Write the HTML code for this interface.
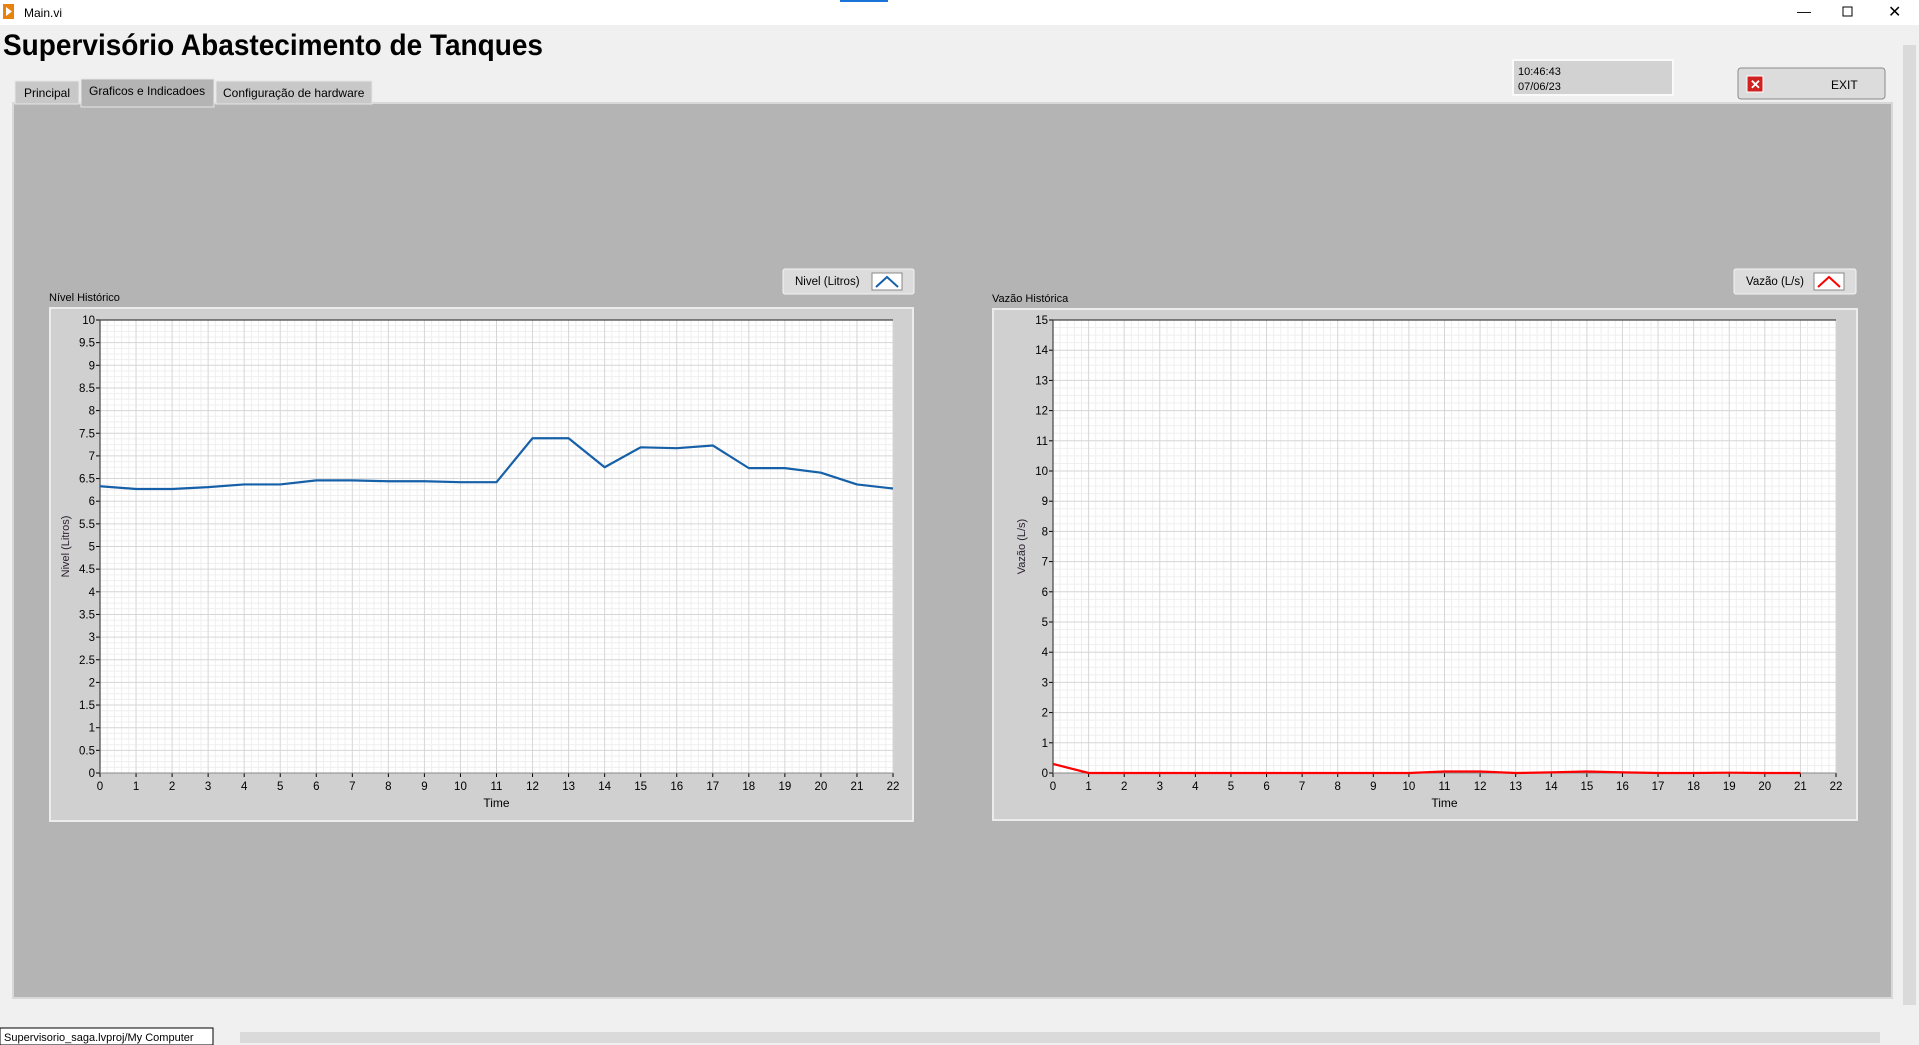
<!DOCTYPE html>
<html><head><meta charset="utf-8">
<style>
html,body{margin:0;padding:0;width:1919px;height:1045px;overflow:hidden;background:#f0f0f0;font-family:"Liberation Sans",sans-serif;}
svg text{font-family:"Liberation Sans",sans-serif;}
</style></head>
<body>
<svg id="root" width="1919" height="1045" viewBox="0 0 1919 1045" xmlns="http://www.w3.org/2000/svg">
  <!-- title bar -->
  <rect x="0" y="0" width="1919" height="25" fill="#ffffff"/>
  <rect x="3" y="4" width="11" height="15" fill="#e8820c"/>
  <polygon points="6,7 12,11.5 6,16" fill="#fff"/>
  <text x="24" y="17" font-size="12" fill="#000">Main.vi</text>
  <rect x="840" y="0" width="48" height="2" fill="#1a73d9"/>
  <text x="1797" y="16" font-size="14" fill="#000">—</text>
  <rect x="1843" y="7" width="9" height="9" fill="none" stroke="#000" stroke-width="1"/>
  <text x="1888" y="17" font-size="16" fill="#000">✕</text>

  <text x="3" y="55" font-size="30" font-weight="bold" fill="#000" textLength="540" lengthAdjust="spacingAndGlyphs">Supervisório Abastecimento de Tanques</text>

  <!-- clock -->
  <rect x="1513" y="60" width="160" height="35" fill="#d2d2d2" stroke="#fafafa" stroke-width="2"/>
  <text x="1518" y="75" font-size="11" fill="#000">10:46:43</text>
  <text x="1518" y="90" font-size="11" fill="#000">07/06/23</text>
  <!-- exit -->
  <g>
    <rect x="1738" y="68" width="147" height="31" rx="3" fill="#dcdcdc" stroke="#8a8a8a"/>
    <rect x="1747" y="76" width="16" height="16" fill="#d02020" stroke="#fff"/>
    <text x="1750" y="89" font-size="13" font-weight="bold" fill="#fff">✕</text>
    <text x="1831" y="89" font-size="12" fill="#000">EXIT</text>
  </g>

  <!-- tabs -->
  <rect x="13" y="103" width="1879" height="895" fill="#b4b4b4" stroke="#d8d8d8" stroke-width="2"/>
  <g>
    <rect x="15" y="81" width="64" height="23" fill="#c8c8c8" stroke="#e6e6e6"/>
    <text x="24" y="97" font-size="12" fill="#000">Principal</text>
  </g>
  <g>
    <rect x="81" y="79" width="133" height="28" fill="#b4b4b4" stroke="#e6e6e6"/>
    <text x="89" y="95" font-size="12" fill="#000">Graficos e Indicadoes</text>
  </g>
  <g>
    <rect x="216" y="81" width="156" height="23" fill="#c8c8c8" stroke="#e6e6e6"/>
    <text x="223" y="97" font-size="12" fill="#000">Configuração de hardware</text>
  </g>

  <!-- right scrollbar & bottom status -->
  <rect x="1900" y="25" width="19" height="1003" fill="#f0f0f0"/>
  <rect x="1903" y="45" width="13" height="960" fill="#dadada"/>
  <rect x="0" y="1028" width="1919" height="17" fill="#f0f0f0"/>
  <rect x="0" y="1028" width="213" height="17" fill="#fff" stroke="#000"/>
  <text x="4" y="1041" font-size="11" fill="#000">Supervisorio_saga.lvproj/My Computer</text>
  <rect x="240" y="1032" width="1640" height="11" fill="#dadada"/>

  <g id="charts"></g>
</svg>
<script>
const nivelX = [0,1,2,3,4,5,6,7,8,9,10,11,12,13,14,15,16,17,18,19,20,21,22];
const nivelY = [6.33,6.27,6.27,6.31,6.37,6.37,6.46,6.46,6.44,6.44,6.42,6.42,7.39,7.39,6.75,7.19,7.17,7.23,6.73,6.73,6.63,6.37,6.28];
const nivelYTicks = [0,0.5,1,1.5,2,2.5,3,3.5,4,4.5,5,5.5,6,6.5,7,7.5,8,8.5,9,9.5,10];
const vazaoX = [0,1,2,3,4,5,6,7,8,9,10,11,12,13,14,15,16,17,18,19,20,21];
const vazaoY = [0.3,0,0,0,0,0,0,0,0,0,0,0.05,0.05,0,0.02,0.05,0.02,0,0,0.01,0,0];
const vazaoYTicks = [0,1,2,3,4,5,6,7,8,9,10,11,12,13,14,15];
const timeTicks = [0,1,2,3,4,5,6,7,8,9,10,11,12,13,14,15,16,17,18,19,20,21,22];

const NS = "http://www.w3.org/2000/svg";
const host = document.getElementById('charts');
function mk(tag, attrs, parent){
  const e = document.createElementNS(NS, tag);
  for (const k in attrs) e.setAttribute(k, attrs[k]);
  (parent||host).appendChild(e);
  return e;
}
function chart(cfg){
  const g = mk('g', {});
  
  
  // frame
  const fr = mk('rect', {x:cfg.fx, y:cfg.fy, width:cfg.fw, height:cfg.fh, fill:'#d0d0d0', stroke:'#ececec', 'stroke-width':2}, g);
  
  
  const tt = mk('text', {x:cfg.fx-1, y:cfg.fy-7, 'font-size':11, fill:'#000'}, g);
  tt.textContent = cfg.title;
  
  
  // legend
  const lg = mk('g', {}, g);
  
  
  mk('rect', {x:cfg.lx, y:269, width:cfg.lw, height:25, rx:2, fill:'#dcdcdc', stroke:'#f4f4f4'}, lg);
  const lt = mk('text', {x:cfg.lx+12, y:285, 'font-size':11.5, fill:'#000'}, lg);
  lt.textContent = cfg.legend;
  mk('rect', {x:cfg.lx+cfg.lw-42, y:273, width:30, height:17, fill:'#fff', stroke:'#888'}, lg);
  mk('polyline', {points:`${cfg.lx+cfg.lw-38},287 ${cfg.lx+cfg.lw-27},277 ${cfg.lx+cfg.lw-16},287`, fill:'none', stroke:cfg.color, 'stroke-width':2}, lg);

  const {px,py,pw,ph,ymax,xmax} = cfg;
  const xs = v => px + v/xmax*pw;
  const ys = v => py + ph - v/ymax*ph;
  mk('rect', {x:px, y:py, width:pw, height:ph, fill:'#fff'}, g);
  // minor grid
  const ystep = cfg.yTicks[1]-cfg.yTicks[0];
  for (let i=0;i<xmax*5;i++){ const v=i/5; if(i%5) mk('line',{x1:xs(v),x2:xs(v),y1:py,y2:py+ph,stroke:'#efefef','stroke-width':1},g); }
  for (let i=0;i<(ymax/ystep)*4;i++){ const v=i*ystep/4; if(i%4) mk('line',{x1:px,x2:px+pw,y1:ys(v),y2:ys(v),stroke:'#efefef','stroke-width':1},g); }
  // major grid + ticks
  timeTicks.forEach(t=>{
    mk('line',{x1:xs(t),x2:xs(t),y1:py,y2:py+ph,stroke:'#d6d6d6','stroke-width':1},g);
    mk('line',{x1:xs(t),x2:xs(t),y1:py+ph,y2:py+ph+4,stroke:'#000','stroke-width':1},g);
    const tx = mk('text',{x:xs(t),y:py+ph+17,'font-size':11.5,'text-anchor':'middle',fill:'#000'},g);
    tx.textContent = t;
    
    
  });
  cfg.yTicks.forEach(t=>{
    mk('line',{x1:px,x2:px+pw,y1:ys(t),y2:ys(t),stroke:'#d6d6d6','stroke-width':1},g);
    mk('line',{x1:px-4,x2:px,y1:ys(t),y2:ys(t),stroke:'#000','stroke-width':1},g);
    const ty = mk('text',{x:px-5,y:ys(t)+4,'font-size':11.5,'text-anchor':'end',fill:'#000'},g);
    ty.textContent = t;
    
    
  });
  mk('line',{x1:px,x2:px+pw,y1:py,y2:py,stroke:'#444','stroke-width':1.2},g);
  mk('line',{x1:px,x2:px,y1:py,y2:py+ph,stroke:'#444','stroke-width':1.2},g);
  mk('line',{x1:px,x2:px+pw,y1:py+ph,y2:py+ph,stroke:'#888','stroke-width':1},g);
  const xt = mk('text',{x:px+pw/2,y:py+ph+34,'font-size':12,'text-anchor':'middle',fill:'#000'},g);
  xt.textContent = 'Time';
  
  
  const yt = mk('text',{x:0,y:0,'font-size':11,'text-anchor':'middle',fill:'#2a2030',transform:`translate(${cfg.ytx},${py+ph/2}) rotate(-90)`},g);
  yt.textContent = cfg.yTitle;
  
  
  const pts = cfg.xv.map((x,i)=>`${xs(x)},${ys(cfg.yv[i])}`).join(' ');
  const line = mk('polyline',{points:pts,fill:'none',stroke:cfg.color,'stroke-width':2.2,'stroke-linejoin':'round'},g);
  
  
}
chart({name:'nivel-historico-chart', title:'Nível Histórico', legend:'Nivel (Litros)', seriesName:'nivel-line', color:'#1560a8',
  fx:50, fy:308, fw:863, fh:513, lx:783, lw:131, px:100, py:320, pw:793, ph:453, xmax:22, ymax:10,
  yTicks:nivelYTicks, xv:nivelX, yv:nivelY, yTitle:'Nivel (Litros)', ytx:69});
chart({name:'vazao-historica-chart', title:'Vazão Histórica', legend:'Vazão (L/s)', seriesName:'vazao-line', color:'#ff0000',
  fx:993, fy:309, fw:864, fh:511, lx:1734, lw:122, px:1053, py:320, pw:783, ph:453, xmax:22, ymax:15,
  yTicks:vazaoYTicks, xv:vazaoX, yv:vazaoY, yTitle:'Vazão (L/s)', ytx:1025});
</script>
</body></html>
